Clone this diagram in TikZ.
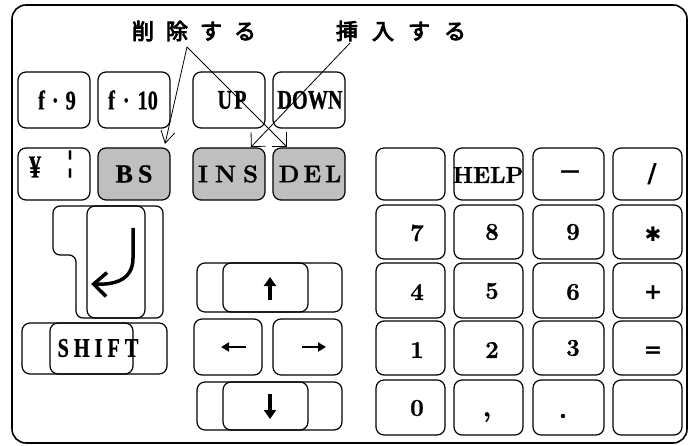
\documentclass[tikz,border=0pt]{standalone}
\usepackage{fontspec}
\usetikzlibrary{arrows.meta}
\newfontfamily\cjk[AutoFakeBold=4]{Noto Sans CJK JP}
\newfontfamily\cond[FakeStretch=0.75,BoldFeatures={FakeBold=0.6}]{Liberation Serif}
\newfontfamily\lserif[BoldFeatures={FakeBold=0.6}]{Liberation Serif}
\newfontfamily\heavy[BoldFeatures={FakeBold=1.2}]{Latin Modern Roman}
\newfontfamily\symf{DejaVu Sans}
\tikzset{
 key/.style={draw, line width=1.2pt, rounded corners=8pt, inner sep=0pt},
 shadedkey/.style={key, fill=black!25},
 lbl/.style={inner sep=0pt, font=\fontsize{24}{24}\selectfont\heavy\bfseries},
 hlbl/.style={inner sep=0pt, font=\fontsize{23}{23}\selectfont\heavy\bfseries},
 slbl/.style={inner sep=0pt, font=\fontsize{22}{22}\selectfont\symf\bfseries},
 clbl/.style={inner sep=0pt, font=\fontsize{27}{27}\selectfont\cond\bfseries},
 jlbl/.style={inner sep=0pt, font=\fontsize{22}{22}\selectfont\cjk\bfseries},
 conn/.style={line width=0.8pt, -{Straight Barb[length=12pt,width=14pt]}},
 keyline/.style={line width=1.2pt},
 thickarrow/.style={line width=4.5pt, -{Triangle[length=9pt,width=12pt]}},
 thinarrow/.style={line width=2.2pt, -{Triangle[length=8pt,width=9pt]}},
}
\newcommand\keybox[6][key]{\node[#1, minimum width={#5-#3}, minimum height={#6-#4}] (#2) at ({(#3+#5)/2},{(#4+#6)/2}) {};}
\begin{document}
\begin{tikzpicture}[x=1pt,y=-1pt]
\useasboundingbox (0,0) rectangle (690,446);
% frame
\draw[line width=1.6pt, rounded corners=14pt] (12,5) rectangle (687,443);
% top rows
\keybox{kf9}{18}{72}{90}{128}
\keybox{kf10}{98}{72}{170}{128}
\keybox{kup}{193}{72}{265}{128}
\keybox{kdown}{273}{72}{345}{128}
\keybox{kyen}{18}{148}{90}{200}
\keybox[shadedkey]{kbs}{98}{148}{170}{200}
\keybox[shadedkey]{kins}{193}{148}{265}{200}
\keybox[shadedkey]{kdel}{273}{148}{345}{200}
% numpad
\keybox{kblank}{376}{148}{445}{200}
\keybox{khelp}{454}{148}{523}{200}
\keybox{kminus}{533}{148}{604}{200}
\keybox{kslash}{613}{148}{682}{200}
\keybox{k7}{376}{205}{445}{259}
\keybox{k8}{454}{205}{523}{259}
\keybox{k9}{533}{205}{604}{259}
\keybox{kast}{613}{205}{682}{259}
\keybox{k4}{376}{263}{445}{318}
\keybox{k5}{454}{263}{523}{318}
\keybox{k6}{533}{263}{604}{318}
\keybox{kplus}{613}{263}{682}{318}
\keybox{k1}{376}{321}{445}{375}
\keybox{k2}{454}{321}{523}{375}
\keybox{k3}{533}{321}{604}{375}
\keybox{keq}{613}{321}{682}{375}
\keybox{k0}{376}{380}{445}{435}
\keybox{kcomma}{454}{380}{523}{435}
\keybox{kdot}{533}{380}{604}{435}
\keybox{kblank2}{613}{380}{682}{435}
% enter
\draw[keyline, rounded corners=7pt] (53,206) -- (163,206) -- (163,318) -- (76,318) -- (76,255) -- (53,255) -- cycle;
\keybox{kenter}{87}{206}{145}{318}
\coordinate (ea) at (133,228);
\coordinate (eb) at (91,284);
\draw[line width=3.5pt, -{Straight Barb[length=13pt,width=24pt,line width=3.5pt]}] (ea) -- (133,258) .. controls (133,278) and (118,285) .. (eb);
% shift
\keybox{kshiftout}{22}{323}{167}{374}
\keybox{kshift}{50}{323}{133}{374}
% cursor keys
\keybox{kupout}{197}{263}{342}{312}
\keybox{kuparr}{223}{263}{308}{312}
\keybox{kleft}{194}{319}{262}{375}
\keybox{kright}{273}{319}{342}{375}
\keybox{kdnout}{197}{382}{342}{430}
\keybox{kdnarr}{223}{382}{308}{430}
\coordinate (ua1) at (270,300);
\coordinate (ua2) at (270,277);
\coordinate (la1) at (246,347);
\coordinate (la2) at (221,347);
\coordinate (ra1) at (302,347);
\coordinate (ra2) at (326,347);
\coordinate (da1) at (270,394);
\coordinate (da2) at (270,419);
\draw[thickarrow] (ua1) -- (ua2);
\draw[thinarrow] (la1) -- (la2);
\draw[thinarrow] (ra1) -- (ra2);
\draw[thickarrow] (da1) -- (da2);
% key texts
\node[clbl] (tf9) at (57,100) {f\hspace{7pt}·\hspace{7pt}9};
\node[clbl] (tf10) at (133,100) {f\hspace{8pt}·\hspace{8pt}10};
\node[clbl] (tup) at (232,100) {U\hspace{2pt}P};
\node[clbl] (tdown) at (310,100) {DOWN};
\node[clbl, font=\fontsize{32}{32}\selectfont\cond\bfseries] (tyen) at (35,167) {¥};
\node[inner sep=0pt, font=\fontsize{30}{30}\selectfont\lserif\bfseries] (tbar) at (70,164) {¦};
\node[inner sep=0pt, font=\fontsize{26}{26}\selectfont\lserif\bfseries] (tbs) at (134,174) {B\hspace{5pt}S};
\node[hlbl, font=\fontsize{24}{24}\selectfont\heavy\bfseries] (tins) at (228,174) {I\hspace{7pt}N\hspace{7pt}S};
\node[hlbl, font=\fontsize{24}{24}\selectfont\heavy\bfseries] (tdel) at (310,174) {D\hspace{4pt}E\hspace{4pt}L};
\node[hlbl] (thelp) at (488,175) {HELP};
\node[inner sep=0pt, font=\fontsize{20}{20}\selectfont\symf\bfseries] (tminus) at (570,174) {—};
\node[slbl, font=\fontsize{26}{26}\selectfont\symf\bfseries] (tslash) at (652,174) {/};
\node[lbl] (t7) at (417,233) {7};
\node[lbl] (t8) at (492,232) {8};
\node[lbl] (t9) at (573,232) {9};
\node[inner sep=0pt, font=\fontsize{20}{20}\selectfont\symf\bfseries] (tast) at (653,234) {✱};
\node[lbl] (t4) at (417,292) {4};
\node[lbl] (t5) at (492,291) {5};
\node[lbl] (t6) at (573,292) {6};
\node[slbl] (tplus) at (653,293) {+};
\node[lbl] (t1) at (417,350) {1};
\node[lbl] (t2) at (492,350) {2};
\node[lbl] (t3) at (573,348) {3};
\node[slbl] (teq) at (653,352) {=};
\node[lbl] (t0) at (417,408) {0};
\node[lbl, font=\fontsize{28}{28}\selectfont\heavy\bfseries] (tcomma) at (487,417) {,};
\node[lbl, font=\fontsize{28}{28}\selectfont\heavy\bfseries] (tdot) at (563,416) {.};
\node[clbl] (tshift) at (98,348) {S\hspace{5pt}H\hspace{5pt}I\hspace{5pt}F\hspace{5pt}T};
% labels
\node[jlbl] (ldel) at (194,31) {削\hspace{12pt}除\hspace{12pt}す\hspace{12pt}る};
\node[jlbl] (lins) at (401,31) {挿\hspace{14pt}入\hspace{14pt}す\hspace{14pt}る};
\coordinate (dsrc) at (187,47);
\coordinate (isrc) at (350,43);
\coordinate (bstip) at (165,144);
\coordinate (deltip) at (287,147);
\coordinate (instip) at (251,147);
\draw[conn] (dsrc) -- (bstip);
\draw[conn, -{Straight Barb[length=10pt,width=20pt]}] (dsrc) -- (deltip);
\draw[conn, -{Straight Barb[length=10pt,width=20pt]}] (isrc) -- (instip);
\end{tikzpicture}
\end{document}
